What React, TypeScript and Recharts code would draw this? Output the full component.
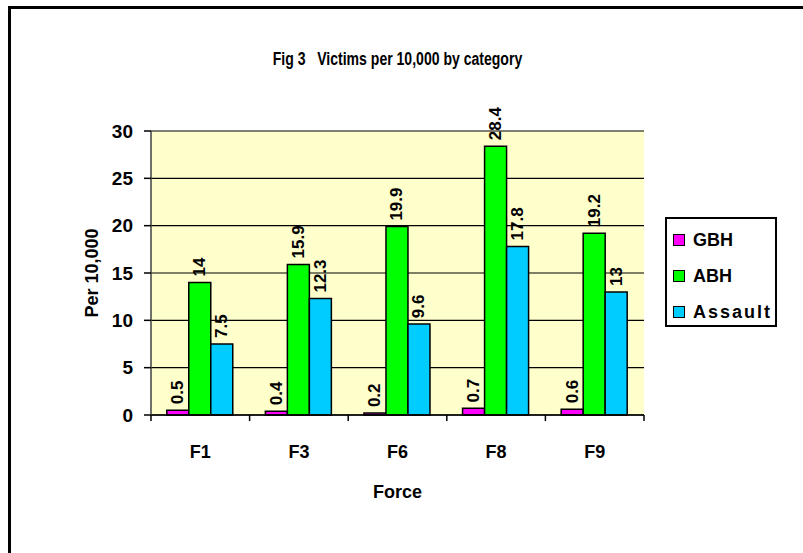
import React from "react";
import { BarChart, Bar, XAxis, YAxis, CartesianGrid, LabelList } from "recharts";

const forces = ["F1", "F3", "F6", "F8", "F9"];
const gbh = [0.5, 0.4, 0.2, 0.7, 0.6];
const abh = [14, 15.9, 19.9, 28.4, 19.2];
const assault = [7.5, 12.3, 9.6, 17.8, 13];
const yTicks = [0, 5, 10, 15, 20, 25, 30];

const seriesList = [
    { key: "gbh", name: "GBH", color: "#FF00FF" },
    { key: "abh", name: "ABH", color: "#00FF00" },
    { key: "assault", name: "Assault", color: "#00CCFF" },
];

const data = forces.map((f, i) => ({ force: f, gbh: gbh[i], abh: abh[i], assault: assault[i] }));

const FONT = '"Liberation Sans", Arial, sans-serif';
const W = 803;
const H = 553;
const plotLeft = 151;
const plotRight = 644;
const band = (plotRight - plotLeft) / forces.length;

function ForceTick({ x, y, payload, index }: any) {
    const left = x - band / 2;
    return (
        <g>
            <line x1={left} x2={left} y1={y} y2={y + 6} stroke="#000" strokeWidth={1.5} />
            {index === forces.length - 1 && (
                <line x1={x + band / 2} x2={x + band / 2} y1={y} y2={y + 6} stroke="#000" strokeWidth={1.5} />
            )}
            <text x={x} y={y + 43} textAnchor="middle" fontFamily={FONT} fontWeight="bold" fontSize={18} fill="#000">
                {payload.value}
            </text>
        </g>
    );
}

function ValueLabel({ x, y, width, value }: any) {
    const cx = x + width / 2;
    const cy = y - 6;
    return (
        <text
            x={cx}
            y={cy}
            transform={`rotate(-90 ${cx} ${cy})`}
            textAnchor="start"
            dominantBaseline="central"
            fontFamily={FONT}
            fontWeight="bold"
            fontSize={17}
            fill="#000"
        >
            {value}
        </text>
    );
}

function LegendBox() {
    return (
        <div
            style={{
                position: "absolute",
                left: 665,
                top: 217,
                width: 112,
                height: 110,
                border: "2px solid #000",
                background: "#fff",
                boxSizing: "border-box",
                paddingLeft: 6,
                paddingTop: 3,
                fontFamily: FONT,
                fontWeight: "bold",
                fontSize: 18,
            }}
        >
            {seriesList.map((s) => (
                <div key={s.key} style={{ display: "flex", alignItems: "center", height: 36 }}>
                    <span
                        style={{
                            width: 10,
                            height: 10,
                            background: s.color,
                            border: "1.5px solid #000",
                            marginRight: 8,
                        }}
                    />
                    <span style={{ letterSpacing: s.key === "assault" ? 2 : 0 }}>{s.name}</span>
                </div>
            ))}
        </div>
    );
}

export default function App() {
    return (
        <div style={{ position: "absolute", left: 0, top: 0, width: W, height: H, background: "#fff" }}>
            <div
                style={{
                    position: "absolute",
                    left: 8,
                    top: 6,
                    right: 0,
                    bottom: 0,
                    borderTop: "3px solid #000",
                    borderLeft: "3px solid #000",
                }}
            />
            <div
                style={{
                    position: "absolute",
                    left: plotLeft,
                    width: plotRight - plotLeft,
                    top: 49,
                    textAlign: "center",
                    fontFamily: FONT,
                    fontWeight: "bold",
                    fontSize: 18,
                    whiteSpace: "pre",
                    transform: "scaleX(0.78)",
                    transformOrigin: "50% 50%",
                }}
            >
                {"Fig 3   Victims per 10,000 by category"}
            </div>
            <div style={{ position: "absolute", left: 0, top: 0 }}>
                <BarChart
                    width={W}
                    height={H}
                    data={data}
                    margin={{ top: 131, right: W - plotRight, bottom: 53, left: 71 }}
                    barCategoryGap="16%"
                    barGap={0}
                >
                    <CartesianGrid fill="#FFFFCC" stroke="#000" strokeWidth={1.2} vertical={false} />
                    <XAxis
                        dataKey="force"
                        height={85}
                        axisLine={{ stroke: "#000", strokeWidth: 1.5 }}
                        tickLine={false}
                        tickSize={0}
                        tickMargin={0}
                        tick={<ForceTick />}
                        interval={0}
                        label={{
                            value: "Force",
                            position: "insideBottom",
                            offset: 2,
                            fontFamily: FONT,
                            fontWeight: "bold",
                            fontSize: 18,
                            fill: "#000",
                        }}
                    />
                    <XAxis
                        xAxisId="top"
                        dataKey="force"
                        orientation="top"
                        height={0}
                        tick={false}
                        tickLine={false}
                        axisLine={{ stroke: "#808080", strokeWidth: 2 }}
                    />
                    <YAxis
                        width={80}
                        domain={[0, 30]}
                        ticks={yTicks}
                        interval={0}
                        tickSize={7}
                        tickMargin={11}
                        axisLine={{ stroke: "#404040", strokeWidth: 1.5 }}
                        tickLine={{ stroke: "#000", strokeWidth: 1.5 }}
                        tick={{ fontFamily: FONT, fontWeight: "bold", fontSize: 19, fill: "#000" }}
                        label={{
                            content: () => (
                                <text
                                    x={92}
                                    y={273}
                                    transform="rotate(-90 92 273)"
                                    textAnchor="middle"
                                    dominantBaseline="central"
                                    fontFamily={FONT}
                                    fontWeight="bold"
                                    fontSize={18}
                                    fill="#000"
                                >
                                    Per 10,000
                                </text>
                            ),
                        }}
                    />
                    <YAxis
                        yAxisId="right"
                        orientation="right"
                        width={0}
                        domain={[0, 30]}
                        tick={false}
                        tickLine={false}
                        axisLine={{ stroke: "#808080", strokeWidth: 2 }}
                    />
                    {seriesList.map((s) => (
                        <Bar
                            key={s.key}
                            dataKey={s.key}
                            name={s.name}
                            fill={s.color}
                            stroke="#000"
                            strokeWidth={1.5}
                            isAnimationActive={false}
                        >
                            <LabelList dataKey={s.key} content={<ValueLabel />} />
                        </Bar>
                    ))}
                </BarChart>
            </div>
            <LegendBox />
        </div>
    );
}
